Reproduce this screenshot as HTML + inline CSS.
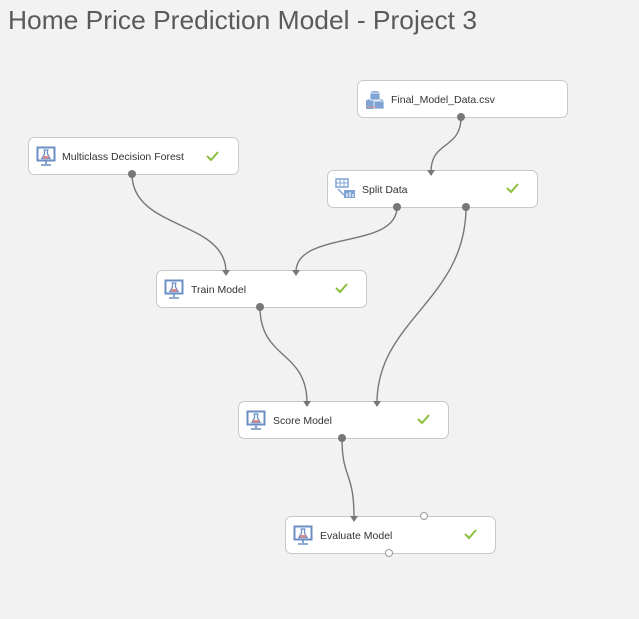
<!DOCTYPE html>
<html><head><meta charset="utf-8"><style>
html,body{margin:0;padding:0;background:#f2f2f2;}
svg{display:block;}
text{font-family:"Liberation Sans",sans-serif;}
</style></head><body>
<svg width="639" height="619" viewBox="0 0 639 619" xmlns="http://www.w3.org/2000/svg">
<defs>
<g id="mon">
 <rect x="1.5" y="1.5" width="17" height="13" fill="#fff" stroke="#6b8fc4" stroke-width="2"/>
 <path d="M7.5 4 L12.5 4 M8.5 4 L8.5 8 L6 12.5 L14 12.5 L11.5 8 L11.5 4" fill="none" stroke="#6b8fc4" stroke-width="1.3"/>
 <rect x="7" y="10" width="6" height="2.5" fill="#e08a8a"/>
 <path d="M10 15 L10 18 M5 19 L15 19" stroke="#6b8fc4" stroke-width="1.6"/>
</g>
<g id="chk"><path d="M0 5 L4 9 L11 1" fill="none" stroke="#8cbf3f" stroke-width="2"/></g>
</defs>

<text x="8" y="29" font-size="26" fill="#5a5a5a" textLength="469" lengthAdjust="spacingAndGlyphs">Home Price Prediction Model - Project 3</text>

<!-- connectors -->
<g fill="none" stroke="#777" stroke-width="1.4">
 <path d="M461 117 C461 150 431 140 431 172" />
 <path d="M132 174 C132 230 226 220 226 272"/>
 <path d="M397 207 C397 250 296 230 296 272"/>
 <path d="M260 307 C260 360 307 350 307 403"/>
 <path d="M466 207 C466 300 377 320 377 403"/>
 <path d="M342 438 C342 480 354 470 354 518"/>
</g>

<!-- nodes -->
<g fill="#fff" stroke="#c8c8c8" stroke-width="1">
 <rect x="357.5" y="80.5" width="210" height="37" rx="6"/>
 <rect x="28.5" y="137.5" width="210" height="37" rx="6"/>
 <rect x="327.5" y="170.5" width="210" height="37" rx="6"/>
 <rect x="156.5" y="270.5" width="210" height="37" rx="6"/>
 <rect x="238.5" y="401.5" width="210" height="37" rx="6"/>
 <rect x="285.5" y="516.5" width="210" height="37" rx="6"/>
</g>

<g fill="#777">
 <path d="M427 170 L435 170 L431 176 Z"/>
 <path d="M222 270 L230 270 L226 276 Z"/>
 <path d="M292 270 L300 270 L296 276 Z"/>
 <path d="M303 401 L311 401 L307 407 Z"/>
 <path d="M373 401 L381 401 L377 407 Z"/>
 <path d="M350 516 L358 516 L354 522 Z"/>
</g>

<!-- ports -->
<g fill="#777">
 <circle cx="461" cy="117" r="4"/>
 <circle cx="132" cy="174" r="4"/>
 <circle cx="397" cy="207" r="4"/>
 <circle cx="466" cy="207" r="4"/>
 <circle cx="260" cy="307" r="4"/>
 <circle cx="342" cy="438" r="4"/>
</g>
<g fill="#fff" stroke="#999">
 <circle cx="424" cy="516" r="3.5"/>
 <circle cx="389" cy="553" r="3.5"/>
</g>

<!-- icons -->
<g transform="translate(365,89)">
 <ellipse cx="6" cy="12" rx="5" ry="2" fill="#7fa4d4"/>
 <rect x="1" y="12" width="10" height="8" fill="#7fa4d4"/>
 <ellipse cx="14" cy="12" rx="5" ry="2" fill="#7fa4d4"/>
 <rect x="9" y="12" width="10" height="8" fill="#7fa4d4" stroke="#fff" stroke-width="0.8"/>
 <ellipse cx="10" cy="4" rx="5" ry="2" fill="#7fa4d4"/>
 <rect x="5" y="4" width="10" height="7" fill="#7fa4d4" stroke="#fff" stroke-width="0.8"/>
 <path d="M1 18 L11 18" stroke="#e09090" stroke-width="1"/>
</g>
<g transform="translate(335,178)">
 <rect x="1" y="1" width="12" height="8" fill="#fff" stroke="#7fa4d4" stroke-width="1.5"/>
 <path d="M5 1 V9 M9 1 V9 M1 5 H13" stroke="#7fa4d4"/>
 <path d="M3 11 L9 17" stroke="#7fa4d4" stroke-width="1.5"/>
 <rect x="9" y="12" width="11" height="8" fill="#7fa4d4"/>
 <path d="M12 19 V15 M15 19 V14 M18 19 V16" stroke="#fff" stroke-width="1.2"/>
</g>
<use href="#mon" x="36" y="146"/>
<use href="#mon" x="164" y="279"/>
<use href="#mon" x="246" y="410"/>
<use href="#mon" x="293" y="525"/>

<!-- labels -->
<g font-size="10.5" fill="#333">
 <text x="391" y="103">Final_Model_Data.csv</text>
 <text x="62" y="160">Multiclass Decision Forest</text>
 <text x="362" y="193">Split Data</text>
 <text x="191" y="293">Train Model</text>
 <text x="273" y="424">Score Model</text>
 <text x="320" y="539">Evaluate Model</text>
</g>

<use href="#chk" x="207" y="151"/>
<use href="#chk" x="507" y="183"/>
<use href="#chk" x="336" y="283"/>
<use href="#chk" x="418" y="414"/>
<use href="#chk" x="465" y="529"/>
</svg>
</body></html>
